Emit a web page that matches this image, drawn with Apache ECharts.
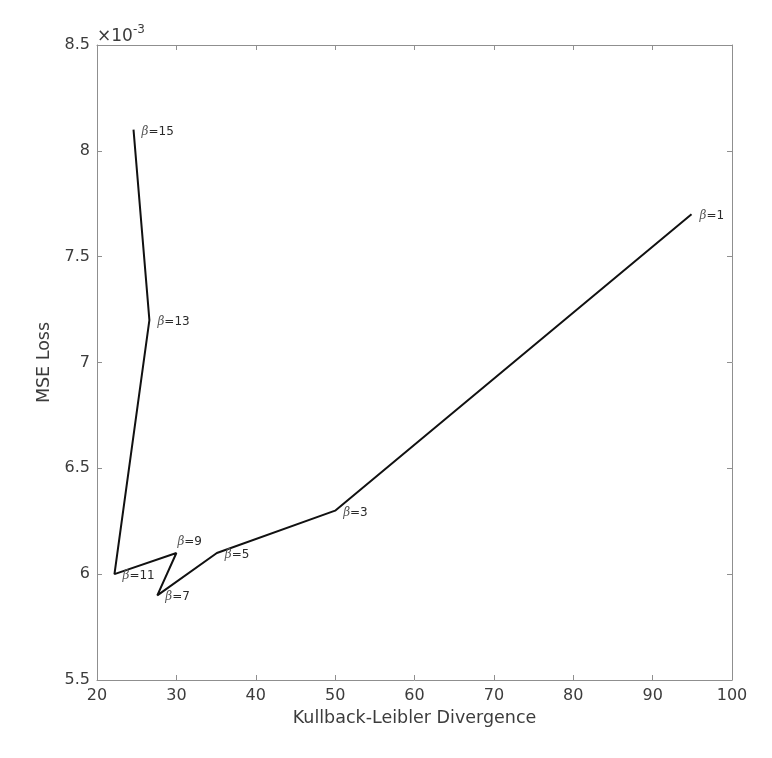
<!DOCTYPE html>
<html>
<head>
<meta charset="utf-8">
<script src="https://cdn.jsdelivr.net/npm/echarts@6/dist/echarts.min.js"></script>
<style>
html,body{margin:0;padding:0;background:#fff;}
#chart{width:772px;height:758px;}
</style>
</head>
<body>
<div id="chart"></div>
<script>
// beta values and measured points (MSE in units of 1e-3)
const betas = [1, 3, 5, 7, 9, 11, 13, 15];
const klDivergence = [94.9, 50.0, 35.1, 27.6, 30.0, 22.2, 26.6, 24.6];
const mseLoss = [7.70, 6.30, 6.10, 5.90, 6.10, 6.00, 7.20, 8.10];
const xTicks = [20, 30, 40, 50, 60, 70, 80, 90, 100];
const yTicks = [5.5, 6, 6.5, 7, 7.5, 8, 8.5];

// label offsets (style only)
const labelOffsets = {9: [-7, -11]};

const textColor = '#3c3c3c';
const axisColor = '#8f8f8f';
const font = 'DejaVu Sans';

const data = betas.map((b, i) => ({
  value: [klDivergence[i], mseLoss[i]],
  label: {offset: labelOffsets[b] || [0, 2]}
}));

const chart = echarts.init(document.getElementById('chart'));
const baseAxis = {
  axisLine: {show: true, lineStyle: {color: axisColor, width: 1}},
  axisTick: {show: true, inside: true, length: 5, lineStyle: {color: axisColor}},
  splitLine: {show: false}
};
chart.setOption({
  animation: false,
  backgroundColor: '#fff',
  grid: {left: 97, right: 40, top: 45, bottom: 78, containLabel: false},
  xAxis: [
    Object.assign({}, baseAxis, {
      type: 'value', min: xTicks[0], max: xTicks[xTicks.length - 1], interval: 10,
      position: 'bottom',
      name: 'Kullback-Leibler Divergence', nameLocation: 'middle', nameGap: 29,
      nameTextStyle: {fontFamily: font, fontSize: 17.5, color: textColor},
      axisLabel: {fontFamily: font, fontSize: 16, color: textColor, margin: 8}
    }),
    Object.assign({}, baseAxis, {
      type: 'value', min: xTicks[0], max: xTicks[xTicks.length - 1], interval: 10,
      position: 'top', axisLabel: {show: false}
    })
  ],
  yAxis: [
    Object.assign({}, baseAxis, {
      type: 'value', min: yTicks[0], max: yTicks[yTicks.length - 1], interval: 0.5,
      position: 'left',
      name: 'MSE Loss', nameLocation: 'middle', nameGap: 37,
      nameTextStyle: {fontFamily: font, fontSize: 17.5, color: textColor},
      axisLabel: {fontFamily: font, fontSize: 16, color: textColor, margin: 7}
    }),
    Object.assign({}, baseAxis, {
      type: 'value', min: yTicks[0], max: yTicks[yTicks.length - 1], interval: 0.5,
      position: 'right', axisLabel: {show: false}
    })
  ],
  graphic: [{
    type: 'text', left: 97, top: 24,
    style: {
      text: '{t|×10}{s|-3}',
      rich: {
        t: {fontFamily: font, fontSize: 17, fill: textColor, verticalAlign: 'bottom'},
        s: {fontFamily: font, fontSize: 12, fill: textColor, verticalAlign: 'top', padding: [0, 0, 9, 0]}
      }
    }
  }],
  series: [{
    type: 'line',
    data: data,
    showSymbol: true,
    symbol: 'circle',
    symbolSize: 0,
    itemStyle: {color: '#111'},
    lineStyle: {color: '#111', width: 2},
    label: {
      show: true, position: 'right', distance: 8,
      formatter: p => '{b|β}{n|=' + betas[p.dataIndex] + '}',
      rich: {
        b: {fontFamily: 'DejaVu Serif', fontStyle: 'italic', fontSize: 12, color: '#555'},
        n: {fontFamily: font, fontSize: 12, color: '#2a2a2a'}
      }
    }
  }]
});
</script>
</body>
</html>
